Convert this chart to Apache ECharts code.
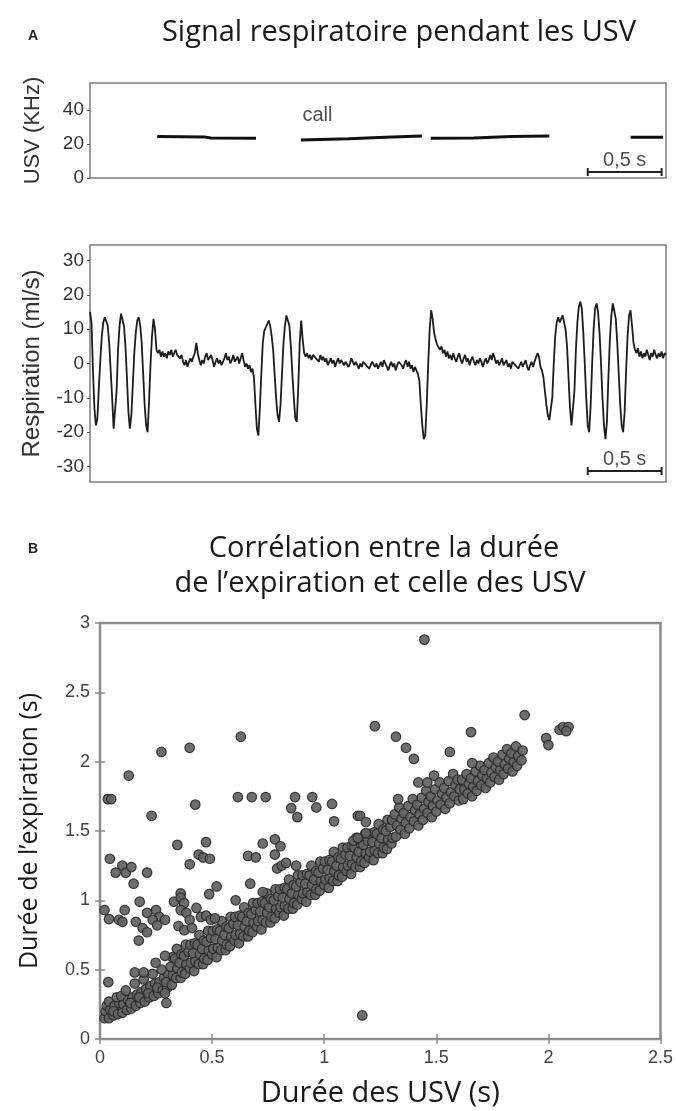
<!DOCTYPE html>
<html>
<head>
<meta charset="utf-8">
<script src="https://cdn.jsdelivr.net/npm/echarts@6/dist/echarts.min.js"></script>
<style>
  html, body { margin: 0; padding: 0; background: #fff; }
  #chart { width: 676px; height: 1111px; }
</style>
</head>
<body>
<div id="chart"></div>
<script>
// --- panel A : USV (kHz) segments, time in s, null = gap between calls
var usvTrace = [
    [0.455, 24.4], [0.78, 24.1], [0.82, 23.6], [1.124, 23.4], null,
    [1.428, 22.4], [1.75, 23.2], [2.0, 24.0], [2.247, 24.8], null,
    [2.307, 23.4], [2.6, 23.6], [2.85, 24.4], [3.11, 24.8], null,
    [3.66, 24.0], [3.88, 24.0]
];
var usvTicks = [0, 20, 40];
var callLabel = [1.54, 37];

// --- panel A : respiration (ml/s), one value every 10 ms from t = 0
var respStep = 0.01;
var respValues = [
    15, 12, -2, -13, -18, -16, -7, 1, 8, 12,
    13.5, 13, 11, 6, -2, -10, -19, -19, -8, 4,
    11, 14.5, 14.5, 11, 5, -4, -14, -19, -15, -6,
    3, 9, 12.5, 13.5, 11, 6, -3, -12, -18, -20,
    -11, 0, 8, 13, 10, 4, 3, 4, 2, 3.5,
    2, 3, 1.5, 3.5, 2.5, 4, 2, 3, 4, 2.5,
    3, 1.5, 2.5, 0.5, -0.5, 1, -1, 0.5, 1.5, 0.5,
    2, 3, 6, 3, 1, -0.5, 1, 0, 2, 3,
    1, 0.5, 2.5, 1, -1, 0.5, 1.5, 0, 1, -0.5,
    0.5, 1.5, 3, 1, 2, 0, 1, 2.5, 0.5, 1,
    2, 0, 1.5, 3, 1, -1, 0, -1.5, -0.5, -2.5,
    -1.5, -4, -12, -19, -21, -13, -3, 6, 9.5, 10,
    11.5, 12.5, 11, 8, 4, -3, -10, -15, -17, -12,
    -3, 6, 11, 14, 14.5, 11, 5, -3, -10, -16,
    -17, -7, 6, 12.5, 7, 3, 2, 3, 1.5, 2.5,
    1, 2.5, 3, 1.5, 2, 0.5, 2.5, 1, 2, 0.5,
    1.5, -0.5, 0.5, 1.5, 0, 1, -1, 0.5, 1.5, 0,
    1, 1.5, -0.5, 0.5, 1, -1, 0, 1.5, 0.5, -0.5,
    0.5, 1, -1.5, 0, -1, 0.5, 1, -0.5, 0, -1.5,
    -0.5, 0.5, 1, -1, 0, -1.5, -0.5, 0.5, -1, 1,
    0, -1, -2, -0.5, 0.5, -1, 0, -2, -0.5, 0.5,
    1, -0.5, -1.5, 0, 1, -1, 0.5, -1.5, -0.5, -2.5,
    -1, -1.5, -3, -5, -12, -18, -22, -21, -12, 0,
    10, 15.5, 13, 9, 7, 5.5, 6, 4, 5, 3,
    4, 2, 3.5, 1.5, 2.5, 1, 3, 1.5, 0.5, 2,
    3, 1, 0, 1.5, 2.5, 0.5, 1.5, -0.5, 1, 2,
    0.5, -0.5, 1, 0, 1.5, 0.5, -1, 0.5, 1.5, 0,
    1, 2.5, 1, 3, 1.5, 0, 1, -0.5, 0.5, 1.5,
    -0.5, 0, 1, -1, 0, -1.5, 0.5, 1, -0.5, 0,
    -1.5, -0.5, 0.5, -1, 0, 1, -1, -2, -0.5, 0.5,
    -1, 0.5, 1, 3, 2, -1, -2, -4, -8, -12,
    -15, -16.5, -17, -10, 0, 8, 12, 13.5, 12, 13,
    14, 12, 10, 5, -4, -13, -18, -18, -8, 4,
    12, 16.5, 18, 16, 9, 0, -10, -18, -20, -12,
    0, 10, 16, 17.5, 15, 9, 0, -10, -18, -22,
    -17, -4, 7, 14, 17.5, 17, 13, 6, -3, -12,
    -18, -20, -14, -2, 8, 14, 15.5, 11, 6, 4,
    3, 4.5, 2, 3.5, 1.5, 3, 2, 4, 2.5, 1,
    3, 2, 4, 2.5, 1.5, 3, 2, 3.5, 1.5, 3,
    2.5
];
var respTicks = [-30, -20, -10, 0, 10, 20, 30];

// scale bars : 0,5 s
var scaleBarT = [3.37, 3.87];
var usvBarY = 3.5;
var respBarY = -31.3;

// --- panel B : expiration duration vs USV duration (s)
var bandPoints = [
    [0.02,0.15],[0.025,0.2],[0.03,0.24],[0.04,0.15],[0.045,0.21],[0.04,0.27],
    [0.06,0.17],[0.065,0.24],[0.06,0.2],[0.08,0.18],[0.085,0.26],[0.075,0.3],
    [0.1,0.19],[0.105,0.25],[0.095,0.31],[0.12,0.21],[0.125,0.28],[0.115,0.35],
    [0.14,0.22],[0.145,0.3],[0.135,0.26],[0.16,0.24],[0.165,0.32],[0.155,0.4],
    [0.18,0.26],[0.185,0.34],[0.175,0.3],[0.2,0.27],[0.205,0.36],[0.195,0.43],
    [0.22,0.3],[0.225,0.38],[0.215,0.33],[0.24,0.31],[0.245,0.4],[0.235,0.47],
    [0.26,0.33],[0.265,0.41],[0.255,0.37],[0.28,0.35],[0.285,0.44],[0.275,0.5],
    [0.3,0.37],[0.305,0.46],[0.295,0.41],
    [0.32,0.39],[0.325,0.46],[0.315,0.52],[0.323,0.59],
    [0.34,0.44],[0.345,0.51],[0.335,0.58],[0.343,0.65],
    [0.36,0.44],[0.365,0.48],[0.355,0.55],[0.363,0.61],
    [0.38,0.47],[0.385,0.54],[0.375,0.6],[0.383,0.68],
    [0.4,0.51],[0.405,0.55],[0.395,0.63],[0.403,0.68],
    [0.42,0.49],[0.425,0.56],[0.415,0.62],[0.423,0.69],
    [0.44,0.54],[0.445,0.61],[0.435,0.68],[0.443,0.75],
    [0.46,0.54],[0.465,0.58],[0.455,0.65],[0.463,0.71],
    [0.48,0.57],[0.485,0.64],[0.475,0.7],[0.483,0.78],
    [0.5,0.61],[0.505,0.65],[0.495,0.73],[0.503,0.78],
    [0.52,0.59],[0.525,0.66],[0.515,0.72],[0.523,0.79],
    [0.54,0.64],[0.545,0.71],[0.535,0.78],[0.543,0.85],
    [0.56,0.64],[0.565,0.68],[0.555,0.75],[0.563,0.81],
    [0.58,0.67],[0.585,0.74],[0.575,0.8],[0.583,0.88],
    [0.6,0.71],[0.605,0.75],[0.595,0.83],[0.603,0.88],
    [0.62,0.69],[0.625,0.76],[0.615,0.82],[0.623,0.89],
    [0.64,0.74],[0.645,0.81],[0.635,0.88],[0.643,0.95],
    [0.66,0.74],[0.665,0.78],[0.655,0.85],[0.663,0.91],
    [0.68,0.77],[0.685,0.84],[0.675,0.9],[0.683,0.98],
    [0.7,0.81],[0.705,0.85],[0.695,0.93],[0.703,0.98],
    [0.72,0.79],[0.725,0.86],[0.715,0.92],[0.723,0.99],
    [0.74,0.84],[0.745,0.91],[0.735,0.98],[0.743,1.05],
    [0.76,0.84],[0.765,0.88],[0.755,0.95],[0.763,1.01],
    [0.78,0.87],[0.785,0.94],[0.775,1.0],[0.783,1.08],
    [0.8,0.91],[0.805,0.95],[0.795,1.03],[0.803,1.08],
    [0.82,0.89],[0.825,0.96],[0.815,1.02],[0.823,1.09],
    [0.84,0.94],[0.845,1.01],[0.835,1.08],[0.843,1.15],
    [0.86,0.94],[0.865,0.98],[0.855,1.05],[0.863,1.11],
    [0.88,0.97],[0.885,1.04],[0.875,1.1],[0.883,1.18],
    [0.9,1.01],[0.905,1.05],[0.895,1.13],[0.903,1.18],
    [0.92,0.99],[0.925,1.06],[0.915,1.12],[0.923,1.19],
    [0.94,1.04],[0.945,1.11],[0.935,1.18],[0.943,1.25],
    [0.96,1.04],[0.965,1.08],[0.955,1.15],[0.963,1.21],
    [0.98,1.07],[0.985,1.14],[0.975,1.2],[0.983,1.28],
    [1.0,1.11],[1.005,1.15],[0.995,1.23],[1.003,1.28],
    [1.02,1.09],[1.025,1.16],[1.015,1.22],[1.023,1.29],
    [1.04,1.14],[1.045,1.21],[1.035,1.28],[1.043,1.35],
    [1.06,1.14],[1.065,1.18],[1.055,1.25],[1.063,1.31],
    [1.08,1.17],[1.085,1.24],[1.075,1.3],[1.083,1.38],
    [1.1,1.21],[1.105,1.25],[1.095,1.33],[1.103,1.38],
    [1.12,1.19],[1.125,1.26],[1.115,1.32],[1.123,1.39],
    [1.14,1.24],[1.145,1.31],[1.135,1.38],[1.143,1.45],
    [1.16,1.24],[1.165,1.28],[1.155,1.35],[1.163,1.41],
    [1.18,1.27],[1.185,1.34],[1.175,1.4],[1.183,1.48],
    [1.2,1.31],[1.205,1.35],[1.195,1.43],[1.203,1.48],
    [1.22,1.29],[1.225,1.36],[1.215,1.42],[1.223,1.49],
    [1.24,1.34],[1.245,1.41],[1.235,1.48],[1.243,1.55],
    [1.26,1.34],[1.265,1.38],[1.255,1.45],[1.263,1.51],
    [1.28,1.37],[1.285,1.44],[1.275,1.5],[1.283,1.58],
    [1.3,1.41],[1.305,1.45],[1.295,1.53],[1.303,1.58],
    [1.32,1.46],[1.325,1.54],[1.315,1.62],
    [1.34,1.51],[1.345,1.59],[1.335,1.67],
    [1.36,1.48],[1.365,1.56],[1.355,1.63],
    [1.38,1.52],[1.385,1.6],[1.375,1.68],
    [1.4,1.57],[1.405,1.65],[1.395,1.73],
    [1.42,1.54],[1.425,1.62],[1.415,1.69],
    [1.44,1.58],[1.445,1.66],[1.435,1.74],
    [1.46,1.63],[1.465,1.71],[1.455,1.79],
    [1.48,1.6],[1.485,1.68],[1.475,1.75],
    [1.5,1.64],[1.505,1.72],[1.495,1.8],
    [1.52,1.69],[1.525,1.77],[1.515,1.85],
    [1.54,1.66],[1.545,1.74],[1.535,1.81],
    [1.56,1.7],[1.565,1.78],[1.555,1.86],
    [1.58,1.75],[1.585,1.83],[1.575,1.91],
    [1.6,1.72],[1.605,1.8],[1.595,1.87],
    [1.62,1.73],[1.625,1.8],[1.615,1.87],
    [1.64,1.77],[1.645,1.84],[1.635,1.91],
    [1.66,1.75],[1.665,1.82],[1.655,1.88],
    [1.68,1.79],[1.685,1.86],[1.675,1.93],
    [1.7,1.83],[1.705,1.9],[1.695,1.97],
    [1.72,1.81],[1.725,1.88],[1.715,1.94],
    [1.74,1.85],[1.745,1.92],[1.735,1.99],
    [1.76,1.89],[1.765,1.96],[1.755,2.03],
    [1.78,1.87],[1.785,1.94],[1.775,2.0],
    [1.8,1.91],[1.805,1.98],[1.795,2.05],
    [1.82,1.95],[1.825,2.02],[1.815,2.09],
    [1.84,1.93],[1.845,2.0],[1.835,2.06],
    [1.86,1.97],[1.865,2.04],[1.855,2.11],
    [1.88,2.01],[1.885,2.08],
    [1.99,2.17],[2.0,2.12],[2.05,2.23],[2.066,2.25],[2.09,2.25],[2.08,2.22]
];
var outlierPoints = [
    [0.035,1.73],[0.05,1.73],[0.128,1.9],[0.274,2.07],[0.4,2.1],[0.628,2.18],[0.23,1.61],[0.425,1.69],
    [0.615,1.745],[0.677,1.745],[0.739,1.745],[0.87,1.745],[0.947,1.745],[0.853,1.665],[0.88,1.6],
    [0.965,1.67],[1.035,1.695],[1.044,1.57],[1.15,1.61],
    [0.345,1.4],[0.473,1.42],[0.726,1.41],[0.78,1.44],[0.805,1.39],[1.13,1.43],[1.15,1.45],
    [0.044,1.3],[0.07,1.2],[0.1,1.25],[0.115,1.2],[0.14,1.24],[0.15,1.12],[0.21,1.2],
    [0.4,1.26],[0.44,1.33],[0.46,1.31],[0.49,1.3],[0.52,1.1],[0.487,1.045],[0.36,1.05],
    [0.66,1.32],[0.695,1.31],[0.78,1.33],[0.79,1.23],[0.81,1.25],[0.83,1.27],[0.875,1.25],
    [0.67,1.12],[0.726,1.06],
    [0.02,0.93],[0.04,0.865],[0.085,0.86],[0.1,0.845],[0.11,0.93],[0.177,0.99],[0.16,0.845],
    [0.19,0.8],[0.21,0.77],[0.173,0.71],
    [0.21,0.91],[0.25,0.93],[0.265,0.88],[0.29,0.86],[0.235,0.86],[0.255,0.82],
    [0.33,0.99],[0.36,1.02],[0.375,0.98],
    [0.36,0.93],[0.385,0.91],[0.4,0.86],[0.43,0.945],[0.45,0.88],[0.473,0.89],[0.495,0.86],
    [0.513,0.87],[0.35,0.815],[0.376,0.785],[0.41,0.8],
    [0.605,1.0],
    [0.037,0.41],[0.155,0.48],[0.195,0.48],[0.248,0.55],[0.29,0.6],[0.29,0.33],[0.296,0.26],
    [1.447,2.88],[1.894,2.336],[1.226,2.256],[1.655,2.213],[1.32,2.18],[1.365,2.1],[1.4,2.02],
    [1.56,2.07],[1.66,1.99],[1.49,1.9],
    [1.42,1.85],[1.46,1.85],[1.33,1.73],[1.16,1.61],[1.186,1.565],[1.186,1.485],
    [1.17,0.17]
];

var chart = echarts.init(document.getElementById('chart'));

var labelFont = 'Liberation Sans, Arial, sans-serif';
var titleFont = 'Open Sans, Noto Sans, sans-serif';

function hiddenTime(grid) {
    return {gridIndex: grid, type: 'value', min: 0, max: 3.9, show: false};
}

function scatterAxisCommon() {
    return {
        axisLine: {show: false},
        axisTick: {show: true, inside: true, length: 5, lineStyle: {color: '#8c8c8c', width: 1.5}},
        splitLine: {show: false}
    };
}

var option = {
    animation: false,
    backgroundColor: '#fff',
    graphic: [
        {type: 'text', x: 28, y: 36, style: {text: 'A', font: 'bold 14px ' + labelFont, fill: '#222', textVerticalAlign: 'middle'}},
        {type: 'text', x: 399, y: 33, style: {text: 'Signal respiratoire pendant les USV', font: '29px ' + titleFont, fill: '#1a1a1a', textAlign: 'center', textVerticalAlign: 'middle'}},
        {type: 'text', x: 28, y: 549, style: {text: 'B', font: 'bold 14px ' + labelFont, fill: '#222', textVerticalAlign: 'middle'}},
        {type: 'text', x: 384, y: 549, style: {text: 'Corrélation entre la durée', font: '29px ' + titleFont, fill: '#1a1a1a', textAlign: 'center', textVerticalAlign: 'middle'}},
        {type: 'text', x: 380, y: 584, style: {text: 'de l’expiration et celle des USV', font: '29px ' + titleFont, fill: '#1a1a1a', textAlign: 'center', textVerticalAlign: 'middle'}}
    ],
    grid: [
        {left: 90, top: 83, width: 576, height: 95, show: true, borderColor: '#7c7c7c', borderWidth: 1.5, backgroundColor: 'transparent'},
        {left: 90, top: 245, width: 576, height: 237, show: true, borderColor: '#7c7c7c', borderWidth: 1.5, backgroundColor: 'transparent'},
        {left: 100, top: 623, width: 566, height: 416, show: true, borderColor: '#8c8c8c', borderWidth: 2.5, backgroundColor: 'transparent'}
    ],
    xAxis: [
        hiddenTime(0),
        hiddenTime(1),
        Object.assign(scatterAxisCommon(), {
            gridIndex: 2, type: 'value', min: 0, max: 2.5, interval: 0.5,
            axisLabel: {fontSize: 18, color: '#444', fontFamily: labelFont, margin: 10},
            name: 'Durée des USV (s)', nameLocation: 'middle', nameGap: 40,
            nameTextStyle: {fontSize: 29, color: '#1a1a1a', fontFamily: titleFont}
        }),
        Object.assign(scatterAxisCommon(), {
            gridIndex: 2, type: 'value', min: 0, max: 2.5, interval: 0.5, position: 'top',
            axisLabel: {show: false}
        })
    ],
    yAxis: [
        {
            gridIndex: 0, type: 'value', min: 0, max: 56,
            axisLine: {show: false}, splitLine: {show: false},
            axisTick: {show: true, customValues: usvTicks, length: 3, lineStyle: {color: '#555'}},
            axisLabel: {customValues: usvTicks, fontSize: 19, color: '#333', fontFamily: labelFont, margin: 6},
            name: 'USV (KHz)', nameLocation: 'middle', nameGap: 46,
            nameTextStyle: {fontSize: 22, color: '#333', fontFamily: labelFont}
        },
        {
            gridIndex: 1, type: 'value', min: -34.5, max: 34.5,
            axisLine: {show: false}, splitLine: {show: false},
            axisTick: {show: true, customValues: respTicks, length: 3, lineStyle: {color: '#555'}},
            axisLabel: {customValues: respTicks, fontSize: 19, color: '#333', fontFamily: labelFont, margin: 6},
            name: 'Respiration (ml/s)', nameLocation: 'middle', nameGap: 46,
            nameTextStyle: {fontSize: 24, color: '#333', fontFamily: labelFont}
        },
        Object.assign(scatterAxisCommon(), {
            gridIndex: 2, type: 'value', min: 0, max: 3, interval: 0.5,
            axisLabel: {fontSize: 18, color: '#444', fontFamily: labelFont, margin: 10},
            name: 'Durée de l’expiration (s)', nameLocation: 'middle', nameGap: 58,
            nameTextStyle: {fontSize: 25, color: '#1a1a1a', fontFamily: titleFont}
        }),
        Object.assign(scatterAxisCommon(), {
            gridIndex: 2, type: 'value', min: 0, max: 3, interval: 0.5, position: 'right',
            axisLabel: {show: false}
        })
    ],
    series: [
        {
            type: 'line', xAxisIndex: 0, yAxisIndex: 0,
            data: usvTrace.map(function (p) { return p ? p : [null, null]; }),
            connectNulls: false, showSymbol: false,
            lineStyle: {color: '#111', width: 3}
        },
        {
            type: 'scatter', xAxisIndex: 0, yAxisIndex: 0, symbolSize: 0,
            data: [callLabel],
            label: {show: true, position: 'inside', formatter: 'call', fontSize: 20, color: '#222', fontFamily: labelFont}
        },
        {
            type: 'line', xAxisIndex: 0, yAxisIndex: 0,
            data: scaleBarT.map(function (t) { return [t, usvBarY]; }),
            symbol: 'rect', symbolSize: [2, 8], itemStyle: {color: '#222'},
            lineStyle: {color: '#222', width: 2}
        },
        {
            type: 'scatter', xAxisIndex: 0, yAxisIndex: 0, symbolSize: 0,
            data: [[(scaleBarT[0] + scaleBarT[1]) / 2, usvBarY]],
            label: {show: true, position: 'top', distance: 2, formatter: '0,5 s', fontSize: 20, color: '#222', fontFamily: labelFont}
        },
        {
            type: 'line', xAxisIndex: 1, yAxisIndex: 1,
            data: respValues.map(function (v, i) { return [i * respStep, v]; }),
            showSymbol: false,
            lineStyle: {color: '#1c1c1c', width: 1.8}
        },
        {
            type: 'line', xAxisIndex: 1, yAxisIndex: 1,
            data: scaleBarT.map(function (t) { return [t, respBarY]; }),
            symbol: 'rect', symbolSize: [2, 8], itemStyle: {color: '#222'},
            lineStyle: {color: '#222', width: 2}
        },
        {
            type: 'scatter', xAxisIndex: 1, yAxisIndex: 1, symbolSize: 0,
            data: [[(scaleBarT[0] + scaleBarT[1]) / 2, respBarY]],
            label: {show: true, position: 'top', distance: 2, formatter: '0,5 s', fontSize: 20, color: '#222', fontFamily: labelFont}
        },
        {
            type: 'scatter', xAxisIndex: 2, yAxisIndex: 2,
            data: bandPoints.concat(outlierPoints),
            symbol: 'circle', symbolSize: 9.5,
            itemStyle: {color: '#626262', borderColor: '#2b2b2b', borderWidth: 1.2, opacity: 0.92}
        }
    ]
};

chart.setOption(option);
</script>
</body>
</html>
